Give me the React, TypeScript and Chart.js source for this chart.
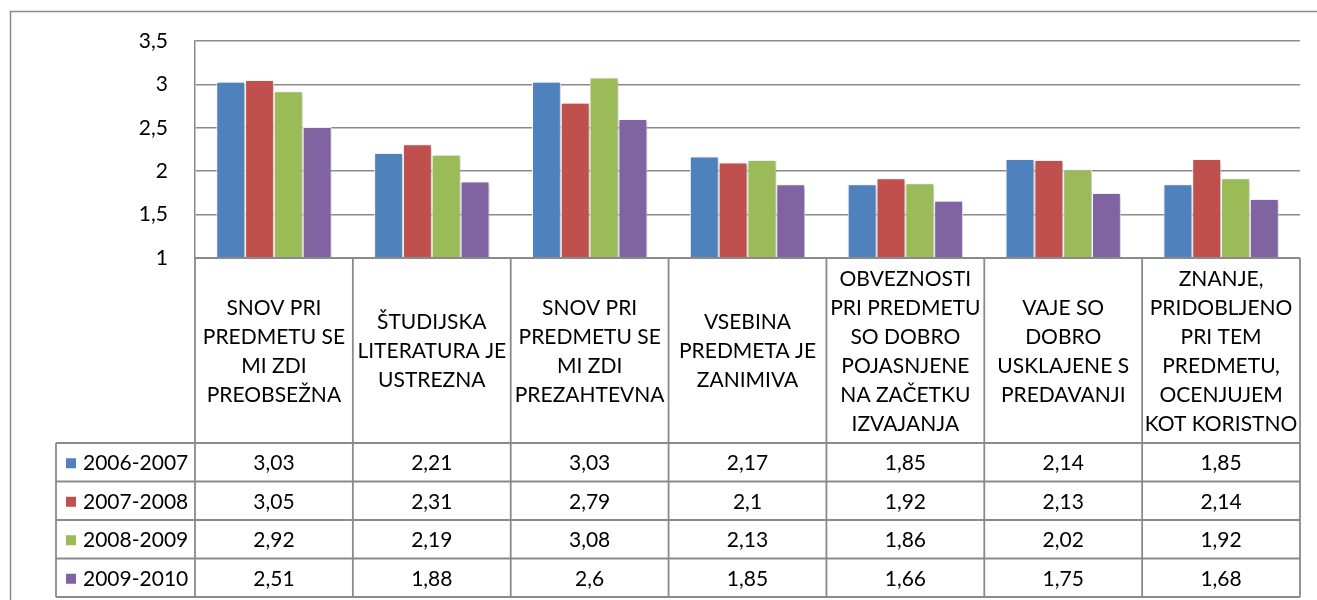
import React, { useEffect, useRef } from "react";
import { Chart, registerables } from "chart.js";
Chart.register(...registerables);

const categories: string[][] = [
  ["SNOV PRI", "PREDMETU SE", "MI ZDI", "PREOBSEŽNA"],
  ["ŠTUDIJSKA", "LITERATURA JE", "USTREZNA"],
  ["SNOV PRI", "PREDMETU SE", "MI ZDI", "PREZAHTEVNA"],
  ["VSEBINA", "PREDMETA JE", "ZANIMIVA"],
  ["OBVEZNOSTI", "PRI PREDMETU", "SO DOBRO", "POJASNJENE", "NA ZAČETKU", "IZVAJANJA"],
  ["VAJE SO", "DOBRO", "USKLAJENE S", "PREDAVANJI"],
  ["ZNANJE,", "PRIDOBLJENO", "PRI TEM", "PREDMETU,", "OCENJUJEM", "KOT KORISTNO"],
];
const seriesNames = ["2006-2007", "2007-2008", "2008-2009", "2009-2010"];
const values2006 = [3.03, 2.21, 3.03, 2.17, 1.85, 2.14, 1.85];
const values2007 = [3.05, 2.31, 2.79, 2.1, 1.92, 2.13, 2.14];
const values2008 = [2.92, 2.19, 3.08, 2.13, 1.86, 2.02, 1.92];
const values2009 = [2.51, 1.88, 2.6, 1.85, 1.66, 1.75, 1.68];
const seriesColors = ["#4F81BD", "#C0504D", "#9BBB59", "#8064A2"];
const yMin = 1;
const yMax = 3.5;
const yStep = 0.5;

const FONT = "Lato, 'Open Sans', sans-serif";
const LINE = "#8a8a8a";
const fmt = (v: number) => String(v).replace(".", ",");

export default function App() {
  const ref = useRef<HTMLCanvasElement>(null);
  useEffect(() => {
    if (!ref.current) return;
    const allSeries = [values2006, values2007, values2008, values2009];

    const frame = {
      id: "frame",
      beforeDraw(chart: any) {
        const ctx = chart.ctx;
        ctx.save();
        ctx.fillStyle = "#fff";
        ctx.fillRect(0, 0, chart.width, chart.height);
        ctx.strokeStyle = LINE;
        ctx.lineWidth = 1.5;
        ctx.beginPath();
        ctx.moveTo(10.5, chart.height);
        ctx.lineTo(10.5, 11.5);
        ctx.lineTo(chart.width, 11.5);
        ctx.stroke();
        ctx.restore();
      },
    };

    const shadow = {
      id: "shadow",
      beforeDatasetsDraw(chart: any) {
        const ctx = chart.ctx;
        ctx.save();
        ctx.shadowColor = "rgba(0,0,0,0.28)";
        ctx.shadowBlur = 4;
        ctx.shadowOffsetX = 1.5;
        ctx.shadowOffsetY = 1.5;
      },
      afterDatasetsDraw(chart: any) {
        chart.ctx.restore();
      },
    };

    const table = {
      id: "table",
      afterDraw(chart: any) {
        const ctx = chart.ctx;
        const xs = chart.scales.x;
        const area = chart.chartArea;
        const n = categories.length;
        const half = (xs.getPixelForValue(1) - xs.getPixelForValue(0)) / 2;
        const top = area.bottom;
        const headerBottom = 443;
        const rowH = 38.5;
        const tableBottom = headerBottom + rowH * seriesNames.length;
        const legendLeft = 56;
        ctx.save();
        ctx.strokeStyle = LINE;
        ctx.lineWidth = 1.8;
        // top line (axis)
        ctx.beginPath();
        ctx.moveTo(area.left, top);
        ctx.lineTo(area.right, top);
        ctx.stroke();
        // vertical lines
        for (let i = 0; i <= n; i++) {
          const x = i === n ? xs.getPixelForValue(n - 1) + half : xs.getPixelForValue(i) - half;
          ctx.beginPath();
          ctx.moveTo(x, top);
          ctx.lineTo(x, tableBottom);
          ctx.stroke();
        }
        ctx.beginPath();
        ctx.moveTo(legendLeft, headerBottom);
        ctx.lineTo(legendLeft, tableBottom);
        ctx.stroke();
        for (let r = 0; r <= seriesNames.length; r++) {
          const y = headerBottom + r * rowH;
          ctx.beginPath();
          ctx.moveTo(legendLeft, y);
          ctx.lineTo(area.right, y);
          ctx.stroke();
        }
        // header labels
        ctx.fillStyle = "#000";
        ctx.font = `21px ${FONT}`;
        ctx.textAlign = "center";
        ctx.textBaseline = "middle";
        const lh = 29;
        const hc = (top + headerBottom) / 2;
        categories.forEach((lines, i) => {
          const cx = xs.getPixelForValue(i);
          const start = hc - ((lines.length - 1) * lh) / 2;
          lines.forEach((t, k) => ctx.fillText(t, cx, start + k * lh + 1));
        });
        // rows
        seriesNames.forEach((name, r) => {
          const cy = headerBottom + r * rowH + rowH / 2 + 1;
          ctx.fillStyle = seriesColors[r];
          ctx.fillRect(66, cy - 5, 10, 10);
          ctx.fillStyle = "#000";
          ctx.textAlign = "left";
          ctx.fillText(name, 83, cy);
          ctx.textAlign = "center";
          allSeries[r].forEach((v, i) => {
            ctx.fillText(fmt(v), xs.getPixelForValue(i), cy);
          });
        });
        ctx.restore();
      },
    };

    const chart = new Chart(ref.current, {
      type: "bar",
      data: {
        labels: categories.map((l) => l.join(" ")),
        datasets: seriesNames.map((name, i) => ({
          label: name,
          data: allSeries[i],
          backgroundColor: seriesColors[i],
          borderColor: "#ffffff",
          borderWidth: 1,
          categoryPercentage: 0.73,
          barPercentage: 1.0,
        })),
      },
      options: {
        responsive: false,
        animation: false,
        layout: { padding: { left: 0, top: 41, right: 17, bottom: 342 } },
        plugins: { legend: { display: false }, tooltip: { enabled: false } },
        scales: {
          x: { display: false },
          y: {
            min: yMin,
            max: yMax,
            afterFit: (s: any) => {
              s.width = 195;
            },
            ticks: {
              stepSize: yStep,
              padding: 27,
              color: "#000",
              font: { family: FONT, size: 21 },
              callback: (v: any) => fmt(Number(v)),
            },
            grid: { color: LINE, lineWidth: 1.5, drawTicks: false },
            border: { display: true, color: LINE, width: 1.5 },
          },
        },
      },
      plugins: [frame, shadow, table],
    });
    return () => chart.destroy();
  }, []);
  return (
    <div style={{ position: "absolute", left: 0, top: 0, width: 1317, height: 600 }}>
      <canvas ref={ref} width={1317} height={600} style={{ display: "block" }} />
    </div>
  );
}
